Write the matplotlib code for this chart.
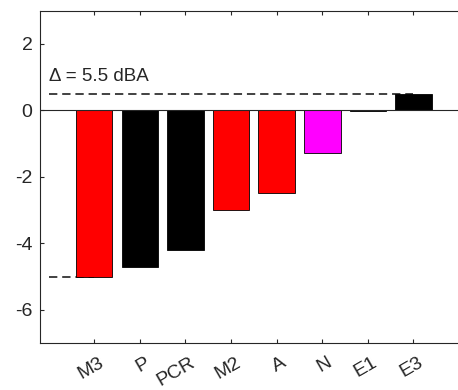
import matplotlib
matplotlib.use("Agg")
import matplotlib.pyplot as plt
from matplotlib.transforms import ScaledTranslation

plt.rcParams['font.family'] = ['Liberation Sans', 'DejaVu Sans']
plt.rcParams['axes.unicode_minus'] = False
plt.rcParams['lines.scale_dashes'] = False

# bar data
labels = ["M3", "P", "PCR", "M2", "A", "N", "E1", "E3"]
values = [-5.0, -4.7, -4.2, -3.0, -2.5, -1.3, -0.03, 0.5]
colors = ["#ff0000", "#000000", "#000000", "#ff0000",
          "#ff0000", "#ff00ff", "#000000", "#000000"]

# reference dashed lines (max / min)
delta_text = "\u0394 = 5.5 dBA"
top_level = 0.5
bottom_level = -5.0

AX_COL = "#262626"

fig = plt.figure(figsize=(4.58, 3.9), dpi=100)
ax = fig.add_axes([39.5 / 458, 47 / 390, (468.2 - 39.5) / 458, 332.5 / 390])

pos = list(range(1, len(labels) + 1))

ax.plot([0, 8], [top_level, top_level], color="#333333", lw=1.3,
        dashes=(6, 3.5), zorder=1)
ax.plot([0, 1], [bottom_level, bottom_level], color="#333333", lw=1.3,
        dashes=(6, 3.5), zorder=1)

ax.bar(pos, values, width=0.8, color=colors, edgecolor="black",
       linewidth=0.6, zorder=2)

ax.axhline(0, color=AX_COL, lw=0.8, zorder=3)

ax.text(0, 0.87, delta_text, fontsize=13.5, color=AX_COL,
        ha="left", va="baseline")

ax.set_xlim(-0.2, 9.2)
ax.set_ylim(-7, 3)
ax.set_yticks([-6, -4, -2, 0, 2])
ax.set_xticks(pos)
ax.set_xticklabels(labels)

ax.tick_params(direction="in", length=3, width=0.8, colors=AX_COL,
               labelsize=14, top=True, right=True)
ax.tick_params(axis="y", pad=5)
ax.tick_params(axis="x", pad=8)

offset = ScaledTranslation(4 / 100, 0, fig.dpi_scale_trans)
for lab in ax.get_xticklabels():
    lab.set_rotation(30)
    lab.set_ha("right")
    lab.set_va("top")
    lab.set_rotation_mode("anchor")
    lab.set_transform(lab.get_transform() + offset)

for sp in ax.spines.values():
    sp.set_color(AX_COL)
    sp.set_linewidth(0.8)

fig.savefig("out.png", dpi=100)
